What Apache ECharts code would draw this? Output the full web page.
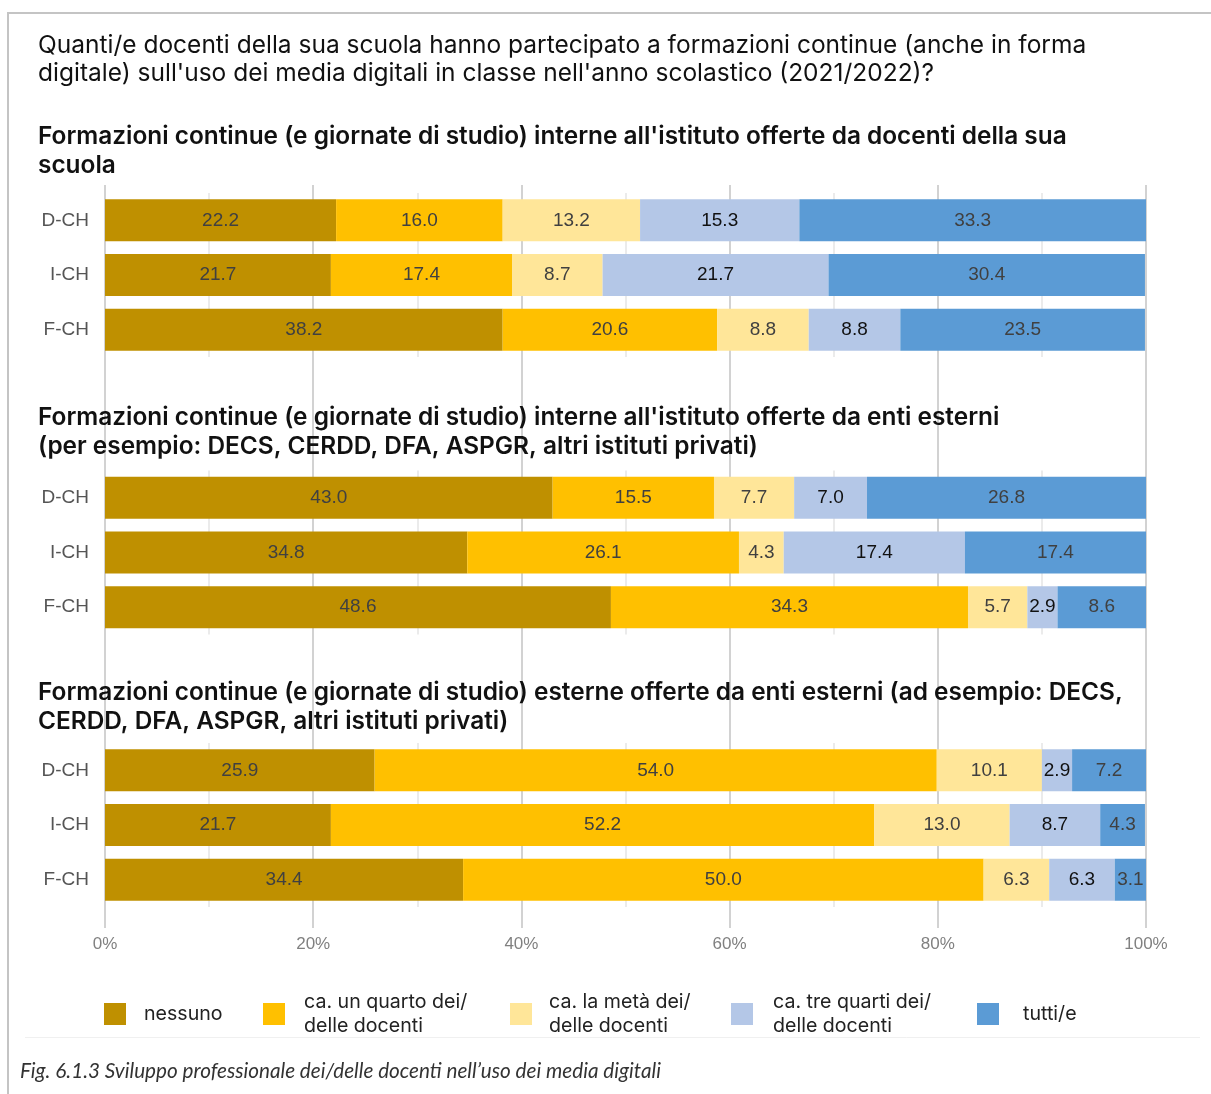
<!DOCTYPE html>
<html>
<head>
<meta charset="utf-8">
<title>Sviluppo professionale dei/delle docenti nell’uso dei media digitali</title>
<script src="https://cdn.jsdelivr.net/npm/echarts@6/dist/echarts.min.js"></script>
<style>
  html, body { margin: 0; padding: 0; background: #ffffff; }
  #chart { width: 1211px; height: 1094px; }
</style>
</head>
<body>
<div id="chart"></div>
<script>
// Regions (rows of every panel)
const categories = ['D-CH', 'I-CH', 'F-CH'];

// Answer categories (stack order, left to right)
const seriesNames = [
  'nessuno',
  'ca. un quarto dei/delle docenti',
  'ca. la metà dei/delle docenti',
  'ca. tre quarti dei/delle docenti',
  'tutti/e'
];

// X axis ticks (percent)
const xTicks = [0, 20, 40, 60, 80, 100];

// Panel titles
const mainTitle = [
  'Quanti/e docenti della sua scuola hanno partecipato a formazioni continue (anche in forma',
  "digitale) sull'uso dei media digitali in classe nell'anno scolastico (2021/2022)?"
];
const panelTitles = [
  ["Formazioni continue (e giornate di studio) interne all'istituto offerte da docenti della sua", 'scuola'],
  ["Formazioni continue (e giornate di studio) interne all'istituto offerte da enti esterni", '(per esempio: DECS, CERDD, DFA, ASPGR, altri istituti privati)'],
  ['Formazioni continue (e giornate di studio) esterne offerte da enti esterni (ad esempio: DECS,', 'CERDD, DFA, ASPGR, altri istituti privati)']
];
const caption = 'Fig. 6.1.3 Sviluppo professionale dei/delle docenti nell’uso dei media digitali';

// Panel 1: internal trainings given by the school's own teachers (%)
const internStaffNessuno   = [22.2, 21.7, 38.2];
const internStaffQuarto    = [16.0, 17.4, 20.6];
const internStaffMeta      = [13.2,  8.7,  8.8];
const internStaffTreQuarti = [15.3, 21.7,  8.8];
const internStaffTutti     = [33.3, 30.4, 23.5];

// Panel 2: internal trainings given by external bodies (%)
const internExtNessuno   = [43.0, 34.8, 48.6];
const internExtQuarto    = [15.5, 26.1, 34.3];
const internExtMeta      = [ 7.7,  4.3,  5.7];
const internExtTreQuarti = [ 7.0, 17.4,  2.9];
const internExtTutti     = [26.8, 17.4,  8.6];

// Panel 3: external trainings given by external bodies (%)
const externNessuno   = [25.9, 21.7, 34.4];
const externQuarto    = [54.0, 52.2, 50.0];
const externMeta      = [10.1, 13.0,  6.3];
const externTreQuarti = [ 2.9,  8.7,  6.3];
const externTutti     = [ 7.2,  4.3,  3.1];

const panels = [
  [internStaffNessuno, internStaffQuarto, internStaffMeta, internStaffTreQuarti, internStaffTutti],
  [internExtNessuno, internExtQuarto, internExtMeta, internExtTreQuarti, internExtTutti],
  [externNessuno, externQuarto, externMeta, externTreQuarti, externTutti]
];

const colors = ['#BF9000', '#FFC000', '#FFE699', '#B4C7E7', '#5B9BD5'];
const labelColors = ['#404040', '#404040', '#404040', '#111111', '#404040'];

const PLOT_LEFT = 105;
const PLOT_RIGHT = 65;
const panelTops = [193, 470.5, 743];
const PANEL_H = 164;

const chart = echarts.init(document.getElementById('chart'), null, { renderer: 'canvas' });

const grids = panelTops.map(t => ({ left: PLOT_LEFT, right: PLOT_RIGHT, top: t, height: PANEL_H, containLabel: false }));
// background grid carrying the full-height major lines and the % labels
grids.push({ left: PLOT_LEFT, right: PLOT_RIGHT, top: 185, bottom: 166, containLabel: false });

const xAxes = panelTops.map((t, i) => ({
  type: 'value', gridIndex: i, min: 0, max: 100, interval: 10,
  axisLabel: { show: false }, axisLine: { show: false }, axisTick: { show: false },
  splitLine: { show: true, lineStyle: { color: ['rgba(0,0,0,0)', '#e4e4e4'], width: 1.5 } }
}));
xAxes.push({
  type: 'value', gridIndex: 3, min: xTicks[0], max: xTicks[xTicks.length - 1], interval: xTicks[1] - xTicks[0],
  position: 'bottom',
  axisLine: { show: false }, axisTick: { show: false },
  axisLabel: {
    formatter: v => v + '%', color: '#808080', fontSize: 17, margin: 8,
    fontFamily: 'Liberation Sans, Arial, sans-serif'
  },
  splitLine: { show: true, lineStyle: { color: '#d2d2d2', width: 2 } }
});

const yAxes = panelTops.map((t, i) => ({
  type: 'category', gridIndex: i, data: categories, inverse: true,
  axisLine: { show: false }, axisTick: { show: false }, splitLine: { show: false },
  axisLabel: { color: '#555555', fontSize: 19, margin: 16, fontFamily: 'Liberation Sans, Arial, sans-serif' }
}));
yAxes.push({ type: 'category', gridIndex: 3, data: [''], show: false });

const series = [];
panels.forEach((panel, p) => {
  panel.forEach((values, s) => {
    series.push({
      type: 'bar',
      name: seriesNames[s],
      stack: 'panel' + p,
      xAxisIndex: p,
      yAxisIndex: p,
      data: values,
      barWidth: 42,
      itemStyle: { color: colors[s] },
      label: {
        show: true, position: 'inside',
        formatter: d => d.value.toFixed(1),
        color: labelColors[s], fontSize: 19,
        fontFamily: 'Liberation Sans, Arial, sans-serif'
      },
      emphasis: { disabled: true },
      z: 3
    });
  });
});

// legend: one block per answer, long names wrapped after "dei/"
const LEGEND_ICON = 22;
const LEGEND_LINE_H = 24;
const LEGEND_ICON_TOP = 1004;
const legendLefts = [104, 263, 510, 731, 977];
const legendTextGap = [13, 14, 12, 15, 19];
const wrapName = name => name.split('dei/').map((part, k, arr) => part + (k < arr.length - 1 ? 'dei/' : ''));
const legends = seriesNames.map((n, i) => {
  const lines = wrapName(n);
  const blockH = Math.max(LEGEND_ICON, lines.length * LEGEND_LINE_H);
  return {
    data: [n], left: legendLefts[i],
    top: LEGEND_ICON_TOP - (blockH - LEGEND_ICON) / 2 + (lines.length > 1 ? 1 : 0),
    orient: 'horizontal', icon: 'rect', itemWidth: LEGEND_ICON, itemHeight: LEGEND_ICON, padding: 0,
    formatter: name => wrapName(name).map(l => '{t|' + l + '}').join('\n'),
    textStyle: {
      padding: [0, 0, 0, legendTextGap[i]],
      rich: { t: { color: '#222222', fontSize: 19.6, lineHeight: LEGEND_LINE_H, fontFamily: 'Inter, sans-serif' } }
    }
  };
});

const graphics = [];
// frame
graphics.push({ type: 'line', shape: { x1: 7, y1: 13, x2: 1211, y2: 13 }, style: { stroke: '#c4c4c4', lineWidth: 2 }, silent: true });
graphics.push({ type: 'line', shape: { x1: 8, y1: 12, x2: 8, y2: 1094 }, style: { stroke: '#c4c4c4', lineWidth: 2 }, silent: true });
// thin separator under the legend
graphics.push({ type: 'line', shape: { x1: 25, y1: 1037.5, x2: 1200, y2: 1037.5 }, style: { stroke: '#f0f0f0', lineWidth: 1 }, silent: true });

const textLine = (txt, x, y, font, color) => ({
  type: 'text', x: x, y: y, silent: true, z: 10,
  style: { text: txt, font: font, fill: color, verticalAlign: 'middle', align: 'left' }
});

mainTitle.forEach((t, i) => graphics.push(textLine(t, 38, 46 + i * 28, '400 24.5px Inter, sans-serif', '#111111')));
const panelTitleY = [137, 418, 693];
panelTitles.forEach((lines, p) => {
  lines.forEach((t, i) => graphics.push(textLine(t, 38, panelTitleY[p] + i * 28.5, '600 24.4px Inter, sans-serif', '#111111')));
});
graphics.push(textLine(caption, 20, 1071, 'italic 20.7px Lato, sans-serif', '#333333'));

chart.setOption({
  backgroundColor: '#ffffff',
  animation: false,
  color: colors,
  grid: grids,
  xAxis: xAxes,
  yAxis: yAxes,
  legend: legends,
  series: series,
  graphic: graphics
});
</script>
</body>
</html>
